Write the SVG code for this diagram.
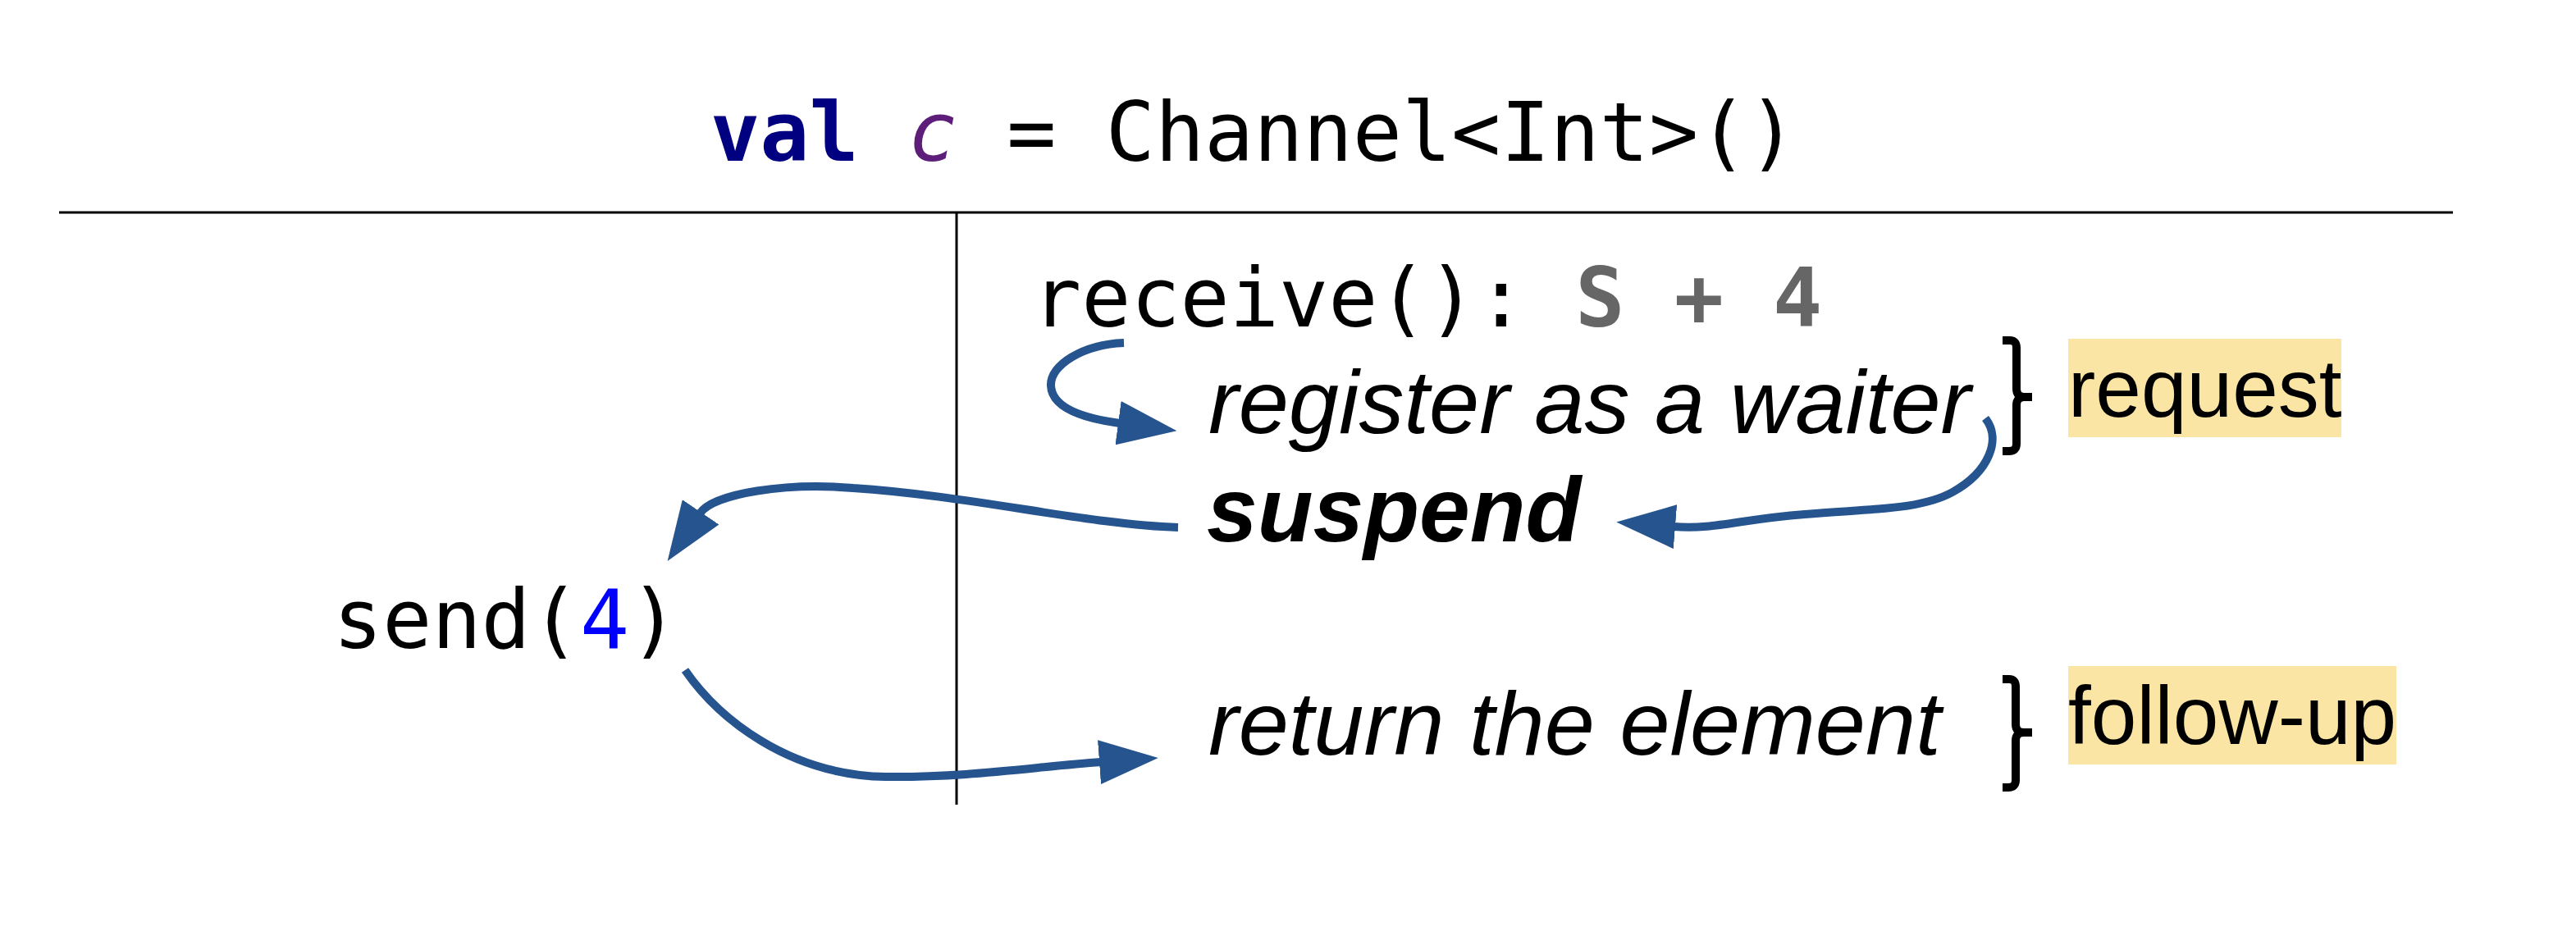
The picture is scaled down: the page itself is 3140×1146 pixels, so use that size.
<svg xmlns="http://www.w3.org/2000/svg" width="3140" height="1146" viewBox="0 0 3140 1146">
<style>
.code{font-family:"DejaVu Sans Mono","Liberation Mono",monospace;font-size:100px;fill:#000}
.it{font-family:"Liberation Sans",Arial,sans-serif;font-style:italic;font-size:110px;fill:#000}
.bi{font-family:"Liberation Sans",Arial,sans-serif;font-style:italic;font-weight:bold;font-size:111px;fill:#000}
.lab{font-family:"Liberation Sans",Arial,sans-serif;font-size:100px;fill:#000}
.hl{fill:#FAE5A5}
.rule{stroke:#000;fill:none}
.conn{stroke:#26548E;stroke-width:10;fill:none;marker-end:url(#ah)}
.brace{stroke:#000;stroke-width:10;fill:none;stroke-linejoin:round}
</style>
<defs>
<marker id="ah" markerUnits="userSpaceOnUse" viewBox="0 0 72 54" markerWidth="72" markerHeight="54" refX="2" refY="27" orient="auto">
<path d="M0,0 L72,27 L0,54 z" fill="#26548E"/>
</marker>
</defs>
<rect width="3140" height="1146" fill="#fff"/>
<g id="title">
<text class="code" x="866" y="196"><tspan font-weight="bold" fill="#000080">val</tspan> <tspan font-style="italic" fill="#5C1E79">c</tspan> = Channel&lt;Int&gt;()</text>
</g>
<g id="rules">
<line class="rule" x1="72" y1="259" x2="2990" y2="259" stroke-width="3"/>
<line class="rule" x1="1166" y1="259" x2="1166" y2="981" stroke-width="3"/>
</g>
<g id="receive">
<text class="code" x="1258" y="398">receive(): <tspan font-weight="bold" fill="#666666">S + 4</tspan></text>
</g>
<g id="register">
<text class="it" x="1473" y="528">register as a waiter</text>
</g>
<g id="suspend">
<text class="bi" x="1471" y="660">suspend</text>
</g>
<g id="return">
<text class="it" x="1473" y="920">return the element</text>
</g>
<g id="send">
<text class="code" x="406" y="790">send(<tspan fill="#0000FF">4</tspan>)</text>
</g>
<g id="request">
<path class="brace" d="M2441,415 L2450,415 Q2458,415 2458,424 L2458,474 Q2458,484 2468,484 L2477,484 M2468,484 Q2458,484 2458,494 L2458,541 Q2458,550 2449,550 L2441,550"/>
<rect class="hl" x="2521" y="413" width="333" height="120"/>
<text class="lab" x="2521" y="508">request</text>
</g>
<g id="followup">
<path class="brace" d="M2441,828 L2449,828 Q2457,828 2457,837 L2457,883 Q2457,893 2467,893 L2477,893 M2467,893 Q2457,893 2457,903 L2457,951 Q2457,960 2448,960 L2441,960"/>
<rect class="hl" x="2521" y="812" width="400" height="120"/>
<text class="lab" x="2521" y="907">follow-up</text>
</g>
<g id="connectors">
<path class="conn" d="M1370,418 C1320,420 1280,445 1281,470 C1282,497 1320,510 1365,516"/>
<path class="conn" d="M1436,643 C1330,640 1180,604 1040,595 C960,588 870,601 853,626"/>
<path class="conn" d="M2420,510 C2440,535 2425,575 2380,600 C2340,622 2280,620 2200,627 C2120,633 2090,646 2040,642"/>
<path class="conn" d="M835,817 C875,875 960,945 1080,947 C1180,948 1260,935 1342,929"/>
</g>
</svg>
